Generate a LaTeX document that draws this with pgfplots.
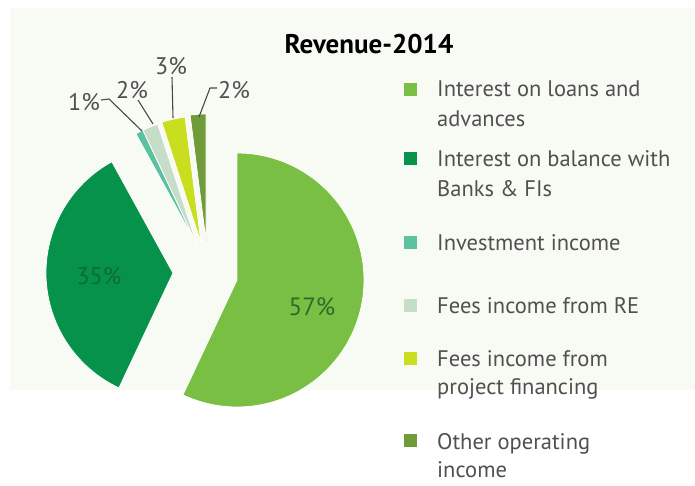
\documentclass[border=0pt]{standalone}
\usepackage{pgfplots}
\pgfplotsset{compat=1.18}
\usepackage{pgfplotstable}
\usepackage{fontspec}
\setmainfont{PT Sans}
\definecolor{slice0}{HTML}{79BF43}
\definecolor{slice1}{HTML}{06924A}
\definecolor{slice2}{HTML}{5CC19F}
\definecolor{slice3}{HTML}{C6DEC8}
\definecolor{slice4}{HTML}{C9DE1F}
\definecolor{slice5}{HTML}{6F9B3A}
\definecolor{txt}{HTML}{505050}
\definecolor{lblA}{HTML}{2F6A2A}
\definecolor{lblB}{HTML}{0E6A36}
\definecolor{bgc}{HTML}{F8FBF4}

% share (%), explode offset dx, dy (px, image coordinates)
\pgfplotstableread{
val dx dy
57 0 0
35 -64 -7
1 -40 -35
2 -40 -35
3 -36 -37
2 -31 -39
}\piedata

\def\cx{237}\def\cy{280}\def\R{127}
\def\cum{90}
\pgfplotsforeachungrouped \i in {0,...,5}{%
  \pgfplotstablegetelem{\i}{val}\of\piedata \let\v\pgfplotsretval
  \pgfplotstablegetelem{\i}{dx}\of\piedata \let\ddx\pgfplotsretval
  \pgfplotstablegetelem{\i}{dy}\of\piedata \let\ddy\pgfplotsretval
  \pgfmathsetmacro\e{\cum-3.6*\v}%
  \pgfmathsetmacro\vx{\cx+\ddx}%
  \pgfmathsetmacro\vy{\cy+\ddy}%
  \expandafter\edef\csname ps\i\endcsname{\cum}%
  \expandafter\edef\csname pe\i\endcsname{\e}%
  \expandafter\edef\csname vx\i\endcsname{\vx}%
  \expandafter\edef\csname vy\i\endcsname{\vy}%
  \edef\cum{\e}%
}

\begin{document}
\begin{tikzpicture}
\useasboundingbox (0,0) rectangle (695pt,486pt);
\begin{axis}[
  width=695pt, height=486pt, scale only axis,
  xmin=0, xmax=695, ymin=0, ymax=486, y dir=reverse,
  hide axis, clip=false]
\fill[bgc] (axis cs:10,8) rectangle (axis cs:695,390);
\pgfplotsinvokeforeach{0,...,5}{%
  \fill[slice#1, draw=white, line width=0.8pt]
    (axis cs:\csname vx#1\endcsname,\csname vy#1\endcsname)
    -- ++(\csname ps#1\endcsname:\R pt)
    arc[start angle=\csname ps#1\endcsname, end angle=\csname pe#1\endcsname, radius=\R pt]
    -- cycle;
}
% leader lines
\draw[txt!90!black, line width=1.1pt] (axis cs:101,100) -- (axis cs:109,99) -- (axis cs:142,131);
\draw[txt!90!black, line width=1.1pt] (axis cs:138,100) -- (axis cs:153,124);
\draw[txt!90!black, line width=1.1pt] (axis cs:172,77) -- (axis cs:173,118);
\draw[txt!90!black, line width=1.1pt] (axis cs:217,88) -- (axis cs:210,88) -- (axis cs:199,117);
% slice labels
\begin{scope}[every node/.style={inner sep=0pt, font=\fontsize{24}{28}\selectfont, text=txt}]
\node at (axis cs:84,102) {1\%};
\node at (axis cs:132,90) {2\%};
\node at (axis cs:171,66) {3\%};
\node at (axis cs:234,90) {2\%};
\end{scope}
\node[inner sep=0pt, font=\fontsize{25}{30}\selectfont, text=lblA] at (axis cs:312,307) {57\%};
\node[inner sep=0pt, font=\fontsize{24}{30}\selectfont, text=lblB] at (axis cs:99,276) {35\%};
% title
\node[inner sep=0pt, font=\fontsize{27}{32}\selectfont\bfseries] at (axis cs:369,44) {Revenue-2014};
% legend
\begin{scope}[every node/.style={inner sep=0pt, anchor=base west, font=\fontsize{22.5}{27}\selectfont, text=txt}]
\fill[slice0] (axis cs:403.5,83.5) rectangle (axis cs:416.5,96.5);
\node at (axis cs:437,97) {Interest on loans and};
\node at (axis cs:437,127) {advances};
\fill[slice1] (axis cs:403.5,152.5) rectangle (axis cs:416.5,165.5);
\node at (axis cs:437,167) {Interest on balance with};
\node at (axis cs:437,197) {Banks \& FIs};
\fill[slice2] (axis cs:403.5,235.5) rectangle (axis cs:416.5,248.5);
\node at (axis cs:437,250) {Investment income};
\fill[slice3] (axis cs:403.5,298.5) rectangle (axis cs:416.5,311.5);
\node at (axis cs:437,313) {Fees income from RE};
\fill[slice4] (axis cs:403.5,351.5) rectangle (axis cs:416.5,364.5);
\node at (axis cs:437,366) {Fees income from};
\node at (axis cs:437,394) {project financing};
\fill[slice5] (axis cs:403.5,433.5) rectangle (axis cs:416.5,446.5);
\node at (axis cs:437,449) {Other operating};
\node at (axis cs:437,477) {income};
\end{scope}
\end{axis}
\end{tikzpicture}
\end{document}
